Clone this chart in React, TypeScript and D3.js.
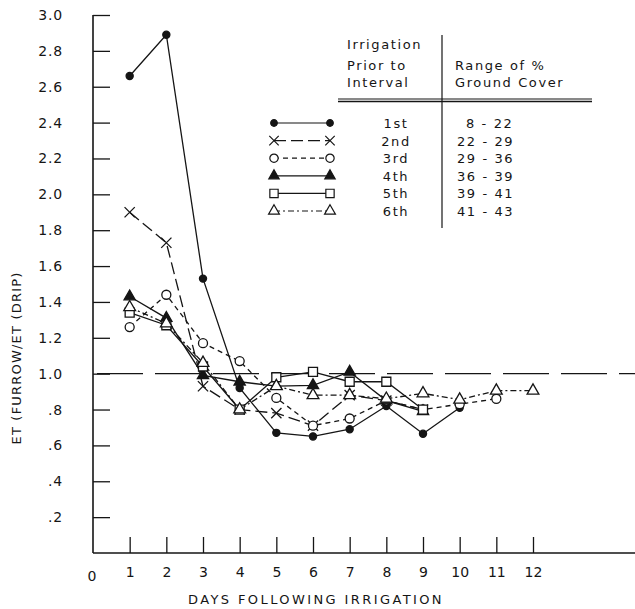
import { useEffect, useRef } from "react";
import * as d3 from "d3";

// days following irrigation
const days1 = [1, 2, 3, 4, 5, 6, 7, 8, 9, 10];
const days2 = [1, 2, 3, 4, 5, 6, 7, 8, 9];
const days3 = [1, 2, 3, 4, 5, 6, 7, 8, 9, 10, 11];
const days4 = [1, 2, 3, 4, 5, 6, 7, 8, 9];
const days5 = [1, 2, 3, 4, 5, 6, 7, 8, 9];
const days6 = [1, 2, 3, 4, 5, 6, 7, 8, 9, 10, 11, 12];

// ET furrow / ET drip
const first = [2.66, 2.89, 1.53, 0.92, 0.67, 0.65, 0.69, 0.82, 0.665, 0.81];
const second = [1.9, 1.73, 0.93, 0.8, 0.78, 0.71, 0.88, 0.85, 0.8];
const third = [1.26, 1.44, 1.17, 1.07, 0.865, 0.71, 0.75, 0.85, 0.8, 0.83, 0.86];
const fourth = [1.43, 1.31, 0.99, 0.955, 0.93, 0.935, 1.01, 0.85, 0.79];
const fifth = [1.34, 1.27, 1.04, 0.8, 0.98, 1.01, 0.955, 0.955, 0.8];
const sixth = [1.37, 1.28, 1.06, 0.8, 0.93, 0.88, 0.88, 0.86, 0.89, 0.855, 0.905, 0.905];

const irrigations = ["1st", "2nd", "3rd", "4th", "5th", "6th"];
const coverRanges = ["8 - 22", "22 - 29", "29 - 36", "36 - 39", "39 - 41", "41 - 43"];

const yTicks = [0.2, 0.4, 0.6, 0.8, 1.0, 1.2, 1.4, 1.6, 1.8, 2.0, 2.2, 2.4, 2.6, 2.8, 3.0];
const xTicks = [1, 2, 3, 4, 5, 6, 7, 8, 9, 10, 11, 12];

const INK = "#151515";

function App() {
  const svgRef = useRef(null);

  useEffect(() => {
    document.body.style.margin = "0";
    const W = 635;
    const H = 609;
    const svg = d3.select(svgRef.current).attr("width", W).attr("height", H);
    svg.selectAll("*").remove();

    const x = d3.scaleLinear().domain([0, 12]).range([93, 533]);
    const y = d3.scaleLinear().domain([0, 3]).range([553, 15]);

    const font = "DejaVu Sans, sans-serif";

    // y axis, ticks point inward
    const yAxis = d3
      .axisLeft(y)
      .tickValues(yTicks)
      .tickSize(-17)
      .tickPadding(30)
      .tickFormat((d) => (d >= 1 ? d3.format(".1f")(d) : d3.format(".1f")(d).replace(/^0/, "")));
    const gy = svg.append("g").attr("transform", "translate(" + x(0) + ",0)").call(yAxis);
    gy.select(".domain").attr("d", "M0," + y(0) + "V" + y(3)).attr("stroke", INK).attr("stroke-width", 1.6);
    gy.selectAll(".tick line").attr("stroke", INK).attr("stroke-width", 1.3);
    gy.selectAll(".tick text")
      .attr("fill", INK)
      .attr("font-family", font)
      .attr("font-size", 14)
      .attr("letter-spacing", 0.8);

    // x axis, ticks point up
    const xAxis = d3
      .axisBottom(x)
      .tickValues(xTicks)
      .tickSize(-16)
      .tickPadding(14)
      .tickFormat(d3.format("d"));
    const gx = svg.append("g").attr("transform", "translate(0," + y(0) + ")").call(xAxis);
    gx.select(".domain").attr("d", "M" + x(0) + ",0H" + W).attr("stroke", INK).attr("stroke-width", 1.6);
    gx.selectAll(".tick line").attr("stroke", INK).attr("stroke-width", 1.3);
    gx.selectAll(".tick text")
      .attr("fill", INK)
      .attr("font-family", font)
      .attr("font-size", 14);
    svg
      .append("text")
      .attr("x", x(0) - 1)
      .attr("y", y(0) + 28)
      .attr("text-anchor", "middle")
      .attr("fill", INK)
      .attr("font-family", font)
      .attr("font-size", 14)
      .text("0");

    // axis labels
    svg
      .append("text")
      .attr("x", 316)
      .attr("y", 604)
      .attr("text-anchor", "middle")
      .attr("fill", INK)
      .attr("font-family", font)
      .attr("font-size", 13)
      .attr("letter-spacing", 2.4)
      .text("DAYS FOLLOWING IRRIGATION");
    svg
      .append("text")
      .attr("transform", "translate(21,358) rotate(-90)")
      .attr("text-anchor", "middle")
      .attr("fill", INK)
      .attr("font-family", font)
      .attr("font-size", 13)
      .attr("letter-spacing", 1.2)
      .text("ET (FURROW/ET (DRIP)");

    // reference line at 1.0
    svg
      .append("line")
      .attr("x1", x(0) + 4)
      .attr("x2", W)
      .attr("y1", y(1))
      .attr("y2", y(1))
      .attr("stroke", INK)
      .attr("stroke-width", 1.4)
      .attr("stroke-dasharray", "46,12");

    const series = [
      { days: days1, vals: first, dash: null, sym: d3.symbolCircle, size: 40, fill: INK },
      { days: days2, vals: second, dash: "12,5", sym: d3.symbolTimes, size: 70, fill: "none" },
      { days: days3, vals: third, dash: "5,4", sym: d3.symbolCircle, size: 64, fill: "white" },
      { days: days4, vals: fourth, dash: null, sym: d3.symbolTriangle, size: 55, fill: INK },
      { days: days5, vals: fifth, dash: null, sym: d3.symbolSquare, size: 81, fill: "white" },
      { days: days6, vals: sixth, dash: "6,3,2,3", sym: d3.symbolTriangle, size: 60, fill: "white" },
    ];

    const line = d3
      .line<[number, number]>()
      .x((d) => x(d[0]))
      .y((d) => y(d[1]));

    series.forEach((s) => {
      const pts = s.days.map((d, i) => [d, s.vals[i]] as [number, number]);
      svg
        .append("path")
        .attr("d", line(pts))
        .attr("fill", "none")
        .attr("stroke", INK)
        .attr("stroke-width", 1.3)
        .attr("stroke-dasharray", s.dash);
    });

    series.forEach((s) => {
      const sym = d3.symbol().type(s.sym).size(s.size);
      svg
        .append("g")
        .selectAll("path")
        .data(s.days.map((d, i) => [d, s.vals[i]]))
        .join("path")
        .attr("d", sym)
        .attr("transform", (d) => "translate(" + x(d[0]) + "," + y(d[1]) + ")")
        .attr("fill", s.fill)
        .attr("stroke", INK)
        .attr("stroke-width", 1.3);
    });

    // legend table
    const lg = svg.append("g");
    const txt = (tx, ty, t, anchor = "start") =>
      lg
        .append("text")
        .attr("x", tx)
        .attr("y", ty)
        .attr("text-anchor", anchor)
        .attr("fill", INK)
        .attr("font-family", font)
        .attr("font-size", 13)
        .attr("letter-spacing", 1.6)
        .text(t);
    txt(347, 49, "Irrigation");
    txt(347, 70, "Prior to");
    txt(347, 87, "Interval");
    txt(455, 70, "Range of %");
    txt(455, 87, "Ground Cover");
    lg.append("line").attr("x1", 338).attr("x2", 592).attr("y1", 99).attr("y2", 99).attr("stroke", INK).attr("stroke-width", 1.2);
    lg.append("line").attr("x1", 338).attr("x2", 592).attr("y1", 101.5).attr("y2", 101.5).attr("stroke", INK).attr("stroke-width", 1.6);
    lg.append("line").attr("x1", 442).attr("x2", 442).attr("y1", 35).attr("y2", 228).attr("stroke", INK).attr("stroke-width", 1.2);

    series.forEach((s, i) => {
      const ry = 123 + i * 17.6;
      lg.append("line")
        .attr("x1", 274)
        .attr("x2", 330)
        .attr("y1", ry)
        .attr("y2", ry)
        .attr("stroke", INK)
        .attr("stroke-width", 1.2)
        .attr("stroke-dasharray", s.dash);
      const sym = d3.symbol().type(s.sym).size(s.size * 0.85);
      [274, 330].forEach((mx) => {
        lg.append("path")
          .attr("d", sym())
          .attr("transform", "translate(" + mx + "," + ry + ")")
          .attr("fill", s.fill)
          .attr("stroke", INK)
          .attr("stroke-width", 1.2);
      });
      txt(396, ry + 5, irrigations[i], "middle");
      txt(i === 0 ? 466 : 457, ry + 5, coverRanges[i]);
    });
  }, []);

  return (
    <div>
      <svg ref={svgRef} style={{ display: "block" }}></svg>
    </div>
  );
}

export default App;
